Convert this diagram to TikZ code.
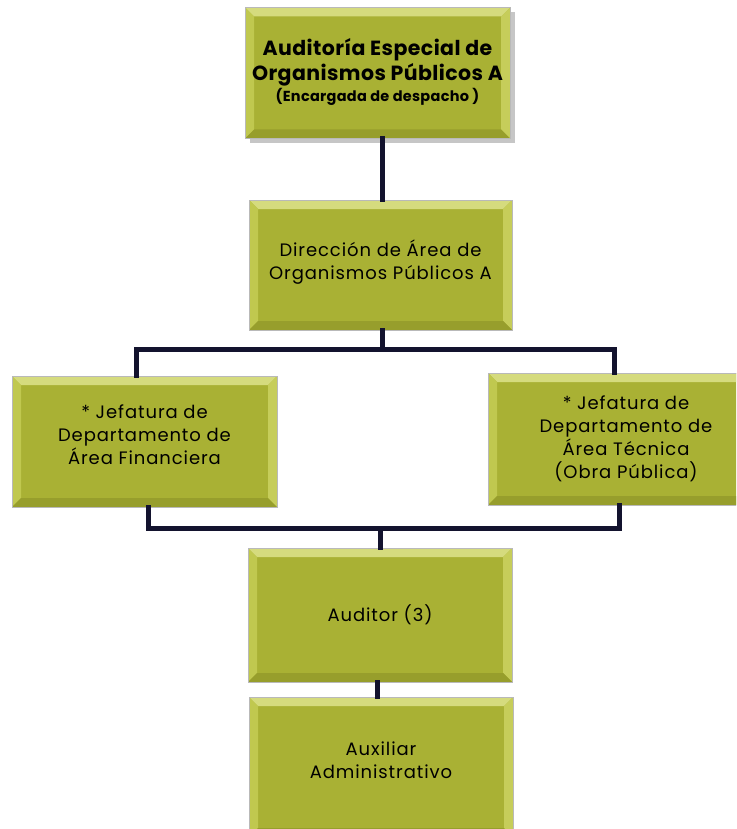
\documentclass[tikz,border=0pt]{standalone}
\usepackage{fontspec}
\setmainfont{Poppins}
\newfontfamily\bodyfont[LetterSpace=5]{Poppins}
\newfontfamily\headfont[LetterSpace=2]{Poppins}
\usetikzlibrary{shadows}
\definecolor{boxbase}{HTML}{A9B134}
\definecolor{bevtop}{HTML}{D5DB7E}
\definecolor{bevleft}{HTML}{C0C84F}
\definecolor{bevright}{HTML}{C6CD5A}
\definecolor{bevbot}{HTML}{979E2C}
\definecolor{linkcol}{HTML}{13132E}
\newcommand{\bw}{9pt}
\tikzset{
  orgbox/.style={rectangle, fill=boxbase, draw=gray!55, line width=0.6pt, inner sep=0pt,
    path picture={
      \fill[bevtop] (path picture bounding box.north west) -- (path picture bounding box.north east)
        -- ([shift={(-\bw,-\bw)}]path picture bounding box.north east) -- ([shift={(\bw,-\bw)}]path picture bounding box.north west) -- cycle;
      \fill[bevleft] (path picture bounding box.north west) -- (path picture bounding box.south west)
        -- ([shift={(\bw,\bw)}]path picture bounding box.south west) -- ([shift={(\bw,-\bw)}]path picture bounding box.north west) -- cycle;
      \fill[bevright] (path picture bounding box.north east) -- (path picture bounding box.south east)
        -- ([shift={(-\bw,\bw)}]path picture bounding box.south east) -- ([shift={(-\bw,-\bw)}]path picture bounding box.north east) -- cycle;
      \fill[bevbot] (path picture bounding box.south west) -- (path picture bounding box.south east)
        -- ([shift={(-\bw,\bw)}]path picture bounding box.south east) -- ([shift={(\bw,\bw)}]path picture bounding box.south west) -- cycle;
    }},
  boxtext/.style={align=center, inner sep=0pt, text=black, font=\bodyfont\fontsize{18}{23}\selectfont},
  link/.style={draw=linkcol, line width=5pt, line cap=rect}
}
\begin{document}
\begin{tikzpicture}[x=1pt,y=-1pt]
\useasboundingbox (0,0) rectangle (736,829);
\clip (0,0) rectangle (736,829);
\coordinate (bl1) at (136,349);
\coordinate (br1) at (614,349);
\coordinate (bl2) at (148,528);
\coordinate (br2) at (619,528);
\node[orgbox, minimum width=265pt, minimum height=131pt,
  drop shadow={shadow xshift=5pt, shadow yshift=-5pt, opacity=0.45, fill=gray}] (top) at (377.5,73) {};
\node[orgbox, minimum width=263pt, minimum height=130pt] (dir) at (380.5,265) {};
\node[orgbox, minimum width=265pt, minimum height=131pt] (left) at (144.5,441.5) {};
\node[orgbox, minimum width=276pt, minimum height=132pt] (right) at (626,439) {};
\node[orgbox, minimum width=264pt, minimum height=134pt] (aud) at (380,615) {};
\node[orgbox, minimum width=264pt, minimum height=140pt] (aux) at (381,767) {};
% texts
\node[boxtext, font=\headfont\bfseries\fontsize{20.5}{25}\selectfont] (topT) at ([yshift=11pt]top.center)
  {Auditoría Especial de\\Organismos Públicos A};
\node[boxtext, font=\headfont\bfseries\fontsize{14.5}{18}\selectfont, anchor=center] (topS) at ([yshift=-24pt]top.center)
  {(Encargada de despacho )};
\node[boxtext] (dirT) at ([yshift=3pt]dir.center) {Dirección de Área de\\Organismos Públicos A};
\node[boxtext] (leftT) at ([yshift=6.5pt]left.center) {* Jefatura de\\Departamento de\\Área Financiera};
\node[boxtext] (rightT) at ([yshift=0pt]right.center) {* Jefatura de\\Departamento de\\Área Técnica\\(Obra Pública)};
\node[boxtext] (audT) at (aud.center) {Auditor (3)};
\node[boxtext] (auxT) at ([yshift=7pt]aux.center) {Auxiliar\\Administrativo};
% connectors
\draw[link] ([xshift=4.5pt]top.south) -- ([xshift=1.5pt]dir.north);
\draw[link] ([xshift=1.5pt]dir.south) -- ([xshift=1.5pt]dir.south |- bl1);
\draw[link] (left.north -| bl1) -- (bl1) -- (br1) -- (right.north -| br1);
\draw[link] (left.south -| bl2) -- (bl2) -- (br2) -- (right.south -| br2);
\draw[link] (aud.north) -- (aud.north |- bl2);
\draw[link] ([xshift=-3pt]aud.south) -- ([xshift=-3pt]aud.south |- aux.north);
\end{tikzpicture}
\end{document}
